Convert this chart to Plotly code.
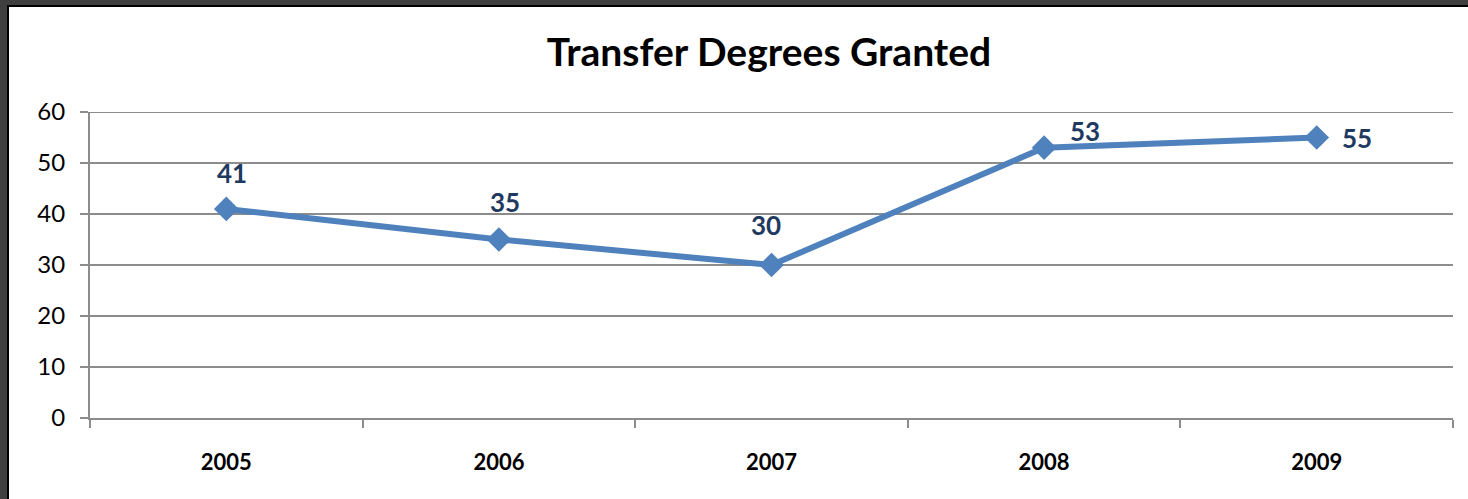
import plotly.graph_objects as go

years = ["2005", "2006", "2007", "2008", "2009"]
degrees = [41, 35, 30, 53, 55]
label_dx = [6, 6, -6, 41, 40]
label_dy = [36, 38, 40, 17, 0]

W, H = 1468, 499
L, R, T, B = 90, 15, 112, 81
pw, ph = W - L - R, H - T - B

def px(x):
    return (x - L) / pw

def py(y):
    return 1 - (y - T) / ph

fig = go.Figure()
fig.add_trace(go.Scatter(
    x=years, y=degrees, mode="lines+markers",
    line=dict(color="#4F81BD", width=6),
    marker=dict(symbol="diamond", size=19, color="#4F81BD"),
    hoverinfo="x+y", showlegend=False,
))

for i, (v, dx, dy) in enumerate(zip(degrees, label_dx, label_dy)):
    fig.add_annotation(x=i, y=v, xref="x", yref="y", text=f"<b>{v}</b>", showarrow=False,
                       xshift=dx, yshift=dy,
                       font=dict(family="Lato, Open Sans, sans-serif", size=26, color="#1F3A60"))

shapes = [
    dict(type="rect", xref="paper", yref="paper", x0=px(0), x1=px(9), y0=py(H), y1=py(0),
         fillcolor="#3f3f3f", line_width=0, layer="below"),
    dict(type="rect", xref="paper", yref="paper", x0=px(0), x1=px(W), y0=py(7), y1=py(0),
         fillcolor="#3f3f3f", line_width=0, layer="below"),
    dict(type="rect", xref="paper", yref="paper", x0=px(7), x1=px(9), y0=py(H), y1=py(5),
         fillcolor="#000000", line_width=0, layer="below"),
    dict(type="rect", xref="paper", yref="paper", x0=px(7), x1=px(W), y0=py(7), y1=py(5),
         fillcolor="#000000", line_width=0, layer="below"),
    dict(type="line", xref="paper", yref="y", x0=0, x1=1, y0=60, y1=60,
         line=dict(color="#8c8c8c", width=2), layer="below"),
]

fig.update_layout(
    width=W, height=H,
    margin=dict(l=L, r=R, t=T, b=B, pad=0),
    paper_bgcolor="white", plot_bgcolor="white",
    title=dict(text="<b>Transfer Degrees Granted</b>", x=px(769), xref="paper", xanchor="center",
               y=1 - 52 / H, yanchor="middle", yref="container",
               font=dict(family="Lato, Open Sans, sans-serif", size=39, color="black")),
    shapes=shapes,
    font=dict(family="Lato, Open Sans, sans-serif"),
)
fig.update_xaxes(
    type="category", range=[-0.5, 4.5],
    showline=True, linecolor="#8c8c8c", linewidth=2,
    ticks="outside", tickson="boundaries", ticklen=8, tickwidth=2, tickcolor="#8c8c8c",
    showgrid=False, zeroline=False,
    tickfont=dict(family="Lato, Open Sans, sans-serif", size=22, color="black", weight="bold"),
    ticklabelstandoff=24,
)
fig.update_yaxes(
    range=[0, 60], dtick=10,
    showline=True, linecolor="#8c8c8c", linewidth=2,
    ticks="outside", ticklen=8, tickwidth=2, tickcolor="#8c8c8c",
    showgrid=True, gridcolor="#8c8c8c", gridwidth=2, zeroline=False,
    tickfont=dict(family="Lato, Open Sans, sans-serif", size=24, color="black"),
    ticklabelstandoff=10,
)

fig.write_html("out.html", config={"displayModeBar": False},
               post_script="document.body.style.margin='0';document.body.style.overflow='hidden';")
